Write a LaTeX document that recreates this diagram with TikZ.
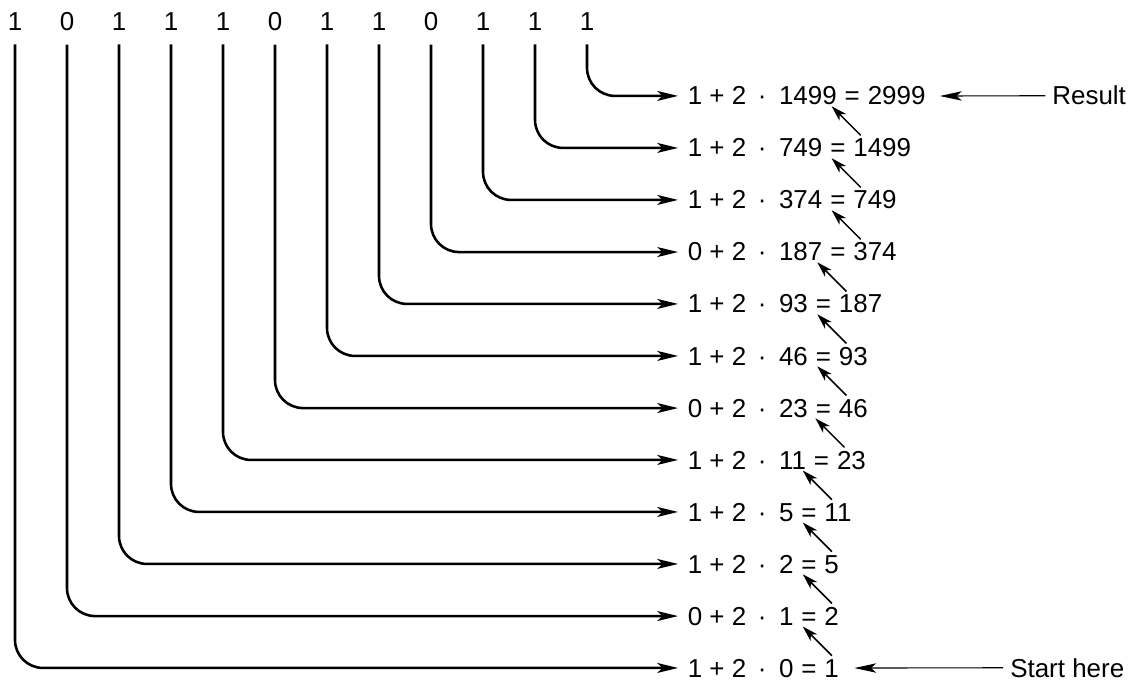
\documentclass[tikz,border=0pt]{standalone}
\usepackage{fontspec}
\setmainfont{Liberation Sans}
\usetikzlibrary{positioning,arrows.meta}

\begin{document}
\begin{tikzpicture}
  [t/.style={inner sep=0pt,
             font=\fontsize{14.2}{16}\selectfont},
   bitline/.style={-{Stealth[length=4mm,width=1.9mm,inset=1mm]},
                   line width=1.4pt,
                   rounded corners=0.54cm,
                   shorten <=0.25cm,
                   shorten >=0.18cm},
   back/.style={-{Stealth[length=3mm,width=1.8mm,inset=0.8mm]},
                line width=0.8pt},
   note/.style={-{Stealth[length=4.2mm,width=1.8mm,inset=1mm]},
                line width=0.6pt}]
  \useasboundingbox (0,0) rectangle (21.98,-13.115);
  % one row per step, top to bottom
  \foreach \b/\o/\r [count=\j from 0] in
    {1/1499/2999, 1/749/1499, 1/374/749, 0/187/374,
     1/93/187, 1/46/93, 0/23/46, 1/11/23,
     1/5/11, 1/2/5, 0/1/2, 1/0/1} {
    \node[t, anchor=base west] (l\j) at (13.22,-2.019-\j) {\b~+~2\hspace{0.45em}·\hspace{0.45em}\null};
    \node[t, base right=0pt of l\j] (o\j) {\o};
    \node[t, base right=0pt of o\j] (m\j) {~=~\null};
    \node[t, base right=0pt of m\j] (r\j) {\r};
    % the bit on top
    \pgfmathtruncatemacro{\i}{11-\j}
    \node[t] (b\i) at (0.288+\i,-0.423) {\b};
    \draw[bitline] (b\i.south) |- (l\j.west);
  }
  % each result feeds the row above
  \foreach \j in {1,...,11} {
    \coordinate (h\j) at ([shift={(-0.41,0.62)}]r\j.north west);
    \draw[back] ([shift={(0.15,0.06)}]r\j.north west) -- (h\j);
  }
  \node[t, anchor=base west] (res) at (20.23,-2.019) {Result};
  \draw[note, shorten <=0.13cm, shorten >=0.27cm] (res.west) -- (r0.east);
  \node[t, anchor=base west] (start) at (19.42,-13.019) {Start here};
  \draw[note, shorten <=0.13cm, shorten >=0.29cm] (start.west) -- (r11.east);
\end{tikzpicture}
\end{document}
